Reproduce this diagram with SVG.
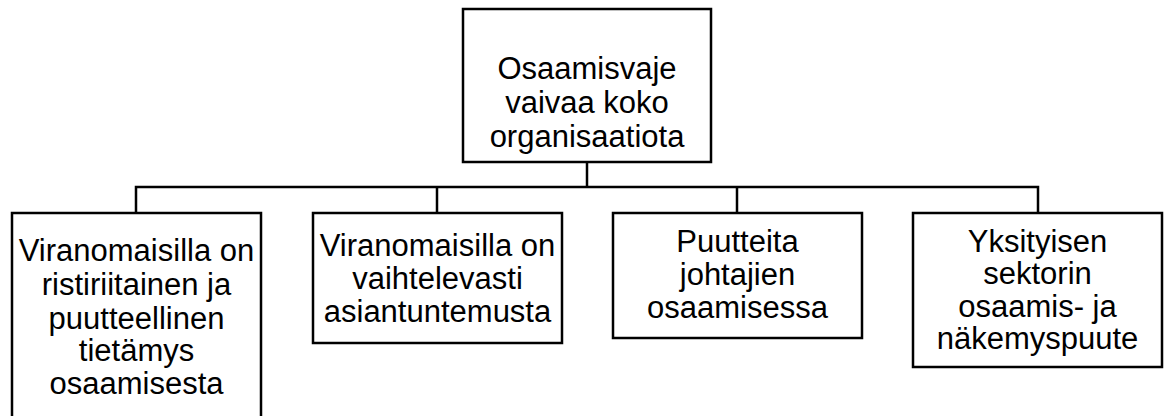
<svg xmlns="http://www.w3.org/2000/svg" width="1165" height="416" viewBox="0 0 1165 416">
<style>
.box{fill:#fff;stroke:#000;stroke-width:2.5}
.lbl{font-family:"Liberation Sans",Arial,sans-serif;font-size:31px;fill:#000;text-anchor:middle}
.con{fill:none;stroke:#000;stroke-width:2.5}
</style>
<rect width="1165" height="416" fill="#fff"/>
<g id="connectors">
<line class="con" x1="587" y1="162" x2="587" y2="187"/>
<polyline class="con" points="136,213 136,187 1038,187 1038,213"/>
<line class="con" x1="437" y1="187" x2="437" y2="213"/>
<line class="con" x1="737" y1="187" x2="737" y2="213"/>
</g>
<g id="root">
<rect class="box" x="463" y="9" width="248" height="153"/>
<text class="lbl" x="587" y="79">Osaamisvaje</text>
<text class="lbl" x="587" y="113">vaivaa koko</text>
<text class="lbl" x="587" y="147">organisaatiota</text>
</g>
<g id="n1">
<rect class="box" x="12" y="213" width="249" height="230"/>
<text class="lbl" x="136.5" y="261">Viranomaisilla on</text>
<text class="lbl" x="136.5" y="295">ristiriitainen ja</text>
<text class="lbl" x="136.5" y="329">puutteellinen</text>
<text class="lbl" x="136.5" y="361">tietämys</text>
<text class="lbl" x="136.5" y="394">osaamisesta</text>
</g>
<g id="n2">
<rect class="box" x="313" y="213" width="249" height="130"/>
<text class="lbl" x="437.5" y="256">Viranomaisilla on</text>
<text class="lbl" x="437.5" y="289">vaihtelevasti</text>
<text class="lbl" x="437.5" y="322">asiantuntemusta</text>
</g>
<g id="n3">
<rect class="box" x="613" y="213" width="249" height="125"/>
<text class="lbl" x="737.5" y="252">Puutteita</text>
<text class="lbl" x="737.5" y="285">johtajien</text>
<text class="lbl" x="737.5" y="318">osaamisessa</text>
</g>
<g id="n4">
<rect class="box" x="913" y="213" width="249" height="154"/>
<text class="lbl" x="1037.5" y="252">Yksityisen</text>
<text class="lbl" x="1037.5" y="284">sektorin</text>
<text class="lbl" x="1037.5" y="317">osaamis- ja</text>
<text class="lbl" x="1037.5" y="349">näkemyspuute</text>
</g>
</svg>
